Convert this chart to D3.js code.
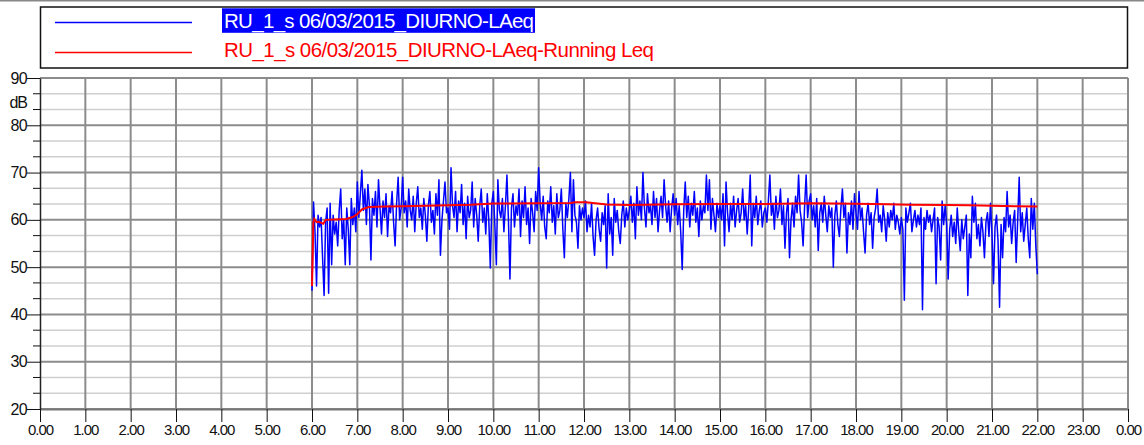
<!DOCTYPE html>
<html>
<head>
<meta charset="utf-8">
<script src="https://d3js.org/d3.v7.min.js"></script>
<style>
    body { margin: 0; background: #fff; }
    svg { display: block; font-family: "Liberation Sans", Arial, sans-serif; }
</style>
</head>
<body>
<script>
(function(){

// series names
var seriesNames = ["RU_1_s 06/03/2015_DIURNO-LAeq", "RU_1_s 06/03/2015_DIURNO-LAeq-Running Leq"];

// LAeq, one value every 2 minutes from 6.00 to 22.00 (one row per hour)
var laeqStartHour = 6,
    laeqStepMin = 2;
var laeq = [
    45.0, 63.8, 57.5, 46.0, 61.0, 58.5, 60.5, 52.0, 44.0, 59.5, 62.5, 44.5, 63.5, 50.5, 61.0, 57.0, 59.5, 54.5, 62.0, 66.5, 56.0, 60.0, 50.5, 62.5, 58.0, 50.5, 64.5, 59.0, 62.5, 57.5,
    68.0, 60.5, 65.5, 70.5, 62.0, 66.5, 59.0, 67.5, 63.0, 51.5, 64.5, 61.0, 66.0, 58.5, 68.5, 62.5, 57.0, 64.0, 60.5, 65.5, 56.5, 63.0, 61.5, 66.0, 59.5, 54.5, 63.5, 69.0, 60.0, 62.5,
    69.0, 61.5, 64.0, 58.5, 66.5, 62.0, 60.0, 65.0, 57.5, 63.5, 67.0, 60.5, 62.5, 58.0, 64.5, 61.0, 55.5, 63.0, 66.0, 59.5, 62.0, 57.0, 65.5, 61.0, 68.5, 52.5, 60.0, 64.0, 68.0, 61.5,
    62.5, 58.0, 71.0, 63.0, 60.5, 66.0, 57.5, 64.0, 61.5, 67.5, 59.0, 63.5, 56.0, 65.0, 60.5, 62.0, 68.0, 58.5, 64.5, 61.0, 55.5, 63.0, 66.5, 59.5, 62.5, 57.0, 65.5, 60.0, 49.8, 63.5,
    66.0, 59.0, 50.5, 68.5, 62.0, 60.5, 64.5, 57.5, 63.0, 69.5, 60.0, 47.5, 62.5, 65.5, 58.5, 63.0, 61.0, 66.5, 56.5, 64.0, 60.5, 67.0, 59.0, 62.5, 55.0, 64.5, 61.5, 57.5, 66.0, 62.0,
    71.0, 63.5, 60.0, 65.0, 58.5, 56.0, 64.0, 61.5, 67.0, 59.5, 63.0, 57.0, 65.5, 60.5, 62.0, 66.5, 58.0, 52.0, 63.5, 60.5, 64.5, 70.0, 57.5, 68.5, 61.0, 59.5, 54.0, 63.0, 60.0, 62.5,
    60.5, 64.0, 57.5, 61.0, 58.5, 63.5, 56.5, 52.5, 60.0, 62.5, 58.0, 55.5, 61.5, 59.0, 63.0, 49.8, 65.5, 57.0, 60.5, 52.5, 64.5, 59.5, 62.0, 57.5, 55.0, 61.0, 64.0, 58.5, 62.5, 60.0,
    62.0, 65.0, 59.5, 63.5, 56.0, 67.0, 61.0, 64.0, 60.0, 70.0, 62.5, 58.5, 65.5, 61.5, 63.0, 59.0, 66.0, 60.5, 64.5, 57.5, 62.0, 65.0, 60.5, 68.5, 63.0, 59.5, 64.0, 57.5, 62.5, 65.5,
    61.0, 64.5, 59.0, 63.0, 57.5, 49.5, 62.0, 68.0, 60.5, 65.0, 58.5, 63.5, 61.0, 66.0, 59.5, 62.5, 56.5, 64.0, 60.0, 63.0, 61.5, 69.5, 62.0, 68.5, 58.0, 64.5, 61.0, 57.5, 63.5, 60.5,
    63.0, 60.0, 65.5, 54.5, 68.0, 61.5, 57.5, 63.5, 60.0, 65.0, 58.5, 62.0, 64.5, 59.5, 61.5, 66.5, 60.0, 63.0, 57.0, 62.5, 69.5, 54.5, 63.5, 60.5, 65.0, 59.0, 62.0, 64.0, 58.5, 61.5,
    62.5, 59.5, 64.0, 69.5, 61.0, 63.5, 58.0, 65.0, 60.5, 62.0, 66.5, 59.0, 63.0, 54.0, 61.5, 64.5, 52.0, 60.0, 63.5, 58.5, 65.0, 61.5, 69.5, 62.0, 59.5, 54.5, 63.0, 69.5, 60.5, 64.0,
    65.5, 60.0, 63.0, 58.5, 64.5, 53.5, 61.5, 63.5, 59.5, 65.0, 61.0, 57.5, 63.0, 60.5, 62.5, 50.0, 61.0, 64.0, 59.0, 56.5, 62.5, 66.5, 60.5, 63.5, 53.0, 61.5, 59.0, 64.0, 58.0, 65.5,
    61.5, 58.0, 66.0, 60.0, 62.5, 57.5, 53.0, 61.0, 63.5, 59.0, 61.5, 54.0, 60.5, 62.5, 66.5, 59.5, 61.0, 57.5, 63.0, 60.0, 55.5, 61.5, 58.5, 62.0, 60.0, 63.5, 58.0, 61.0, 59.5, 57.0,
    60.5, 58.0, 43.0, 62.5, 59.5, 61.5, 63.5, 57.5, 60.0, 62.0, 58.5, 61.0, 59.0, 62.5, 41.0, 60.5, 58.0, 62.0, 59.5, 61.0, 57.5, 60.0, 62.5, 46.5, 60.5, 58.5, 51.5, 64.0, 59.0, 63.0,
    59.0, 47.5, 58.0, 61.0, 56.5, 59.5, 55.0, 62.5, 57.5, 53.5, 60.0, 56.0, 58.5, 61.0, 44.0, 57.0, 52.0, 65.0, 59.5, 63.5, 56.0, 59.0, 54.5, 60.5, 57.5, 52.0, 59.5, 61.5, 56.5, 63.5,
    57.0, 46.5, 58.5, 61.0, 55.5, 41.5, 59.0, 52.0, 60.5, 57.5, 66.0, 58.5, 61.0, 55.0, 59.5, 62.0, 51.0, 60.0, 69.0, 57.5, 61.5, 55.5, 59.0, 62.5, 56.0, 52.0, 64.5, 58.0, 63.5, 54.5,
    48.5
];

// running Leq (hour, dB)
var runHours = [6.00, 6.03, 6.05, 6.10, 6.15, 6.25, 6.30, 6.50, 6.75, 6.90, 7.00, 7.10, 7.25, 7.60, 8.00, 8.50, 9.00, 9.50, 10.00, 11.00, 11.70, 11.80, 12.05, 12.50, 13.00, 14.00, 15.00, 16.00, 17.00, 17.50, 18.00, 18.70, 19.20, 20.00, 20.50, 21.00, 21.50, 22.00];
var runLeq   = [46.0, 59.5, 60.2, 59.5, 59.6, 59.2, 60.0, 60.1, 60.2, 60.6, 61.2, 62.2, 62.7, 62.85, 62.9, 63.0, 63.1, 63.2, 63.45, 63.5, 63.55, 63.7, 63.7, 63.25, 63.15, 63.3, 63.35, 63.35, 63.5, 63.45, 63.4, 63.3, 63.2, 63.15, 63.1, 63.0, 62.9, 62.8];

// axis ticks
var xTickLabels = ["0.00", "1.00", "2.00", "3.00", "4.00", "5.00", "6.00", "7.00", "8.00", "9.00", "10.00", "11.00",
    "12.00", "13.00", "14.00", "15.00", "16.00", "17.00", "18.00", "19.00", "20.00", "21.00", "22.00", "23.00", "0.00"];
var yTickValues = [20, 30, 40, 50, 60, 70, 80, 90];

// frame
var width = 1144,
    height = 445,
    plotLeft = 40,
    plotRight = 1128,
    plotTop = 78,
    plotBottom = 409;

var svg = d3.select("body")
    .append("svg")
    .attr("width", width)
    .attr("height", height);

svg.append("rect")
    .attr("width", width)
    .attr("height", height)
    .attr("fill", "#fff");

// top border line
svg.append("line")
    .attr("x1", 0).attr("x2", width)
    .attr("y1", 0.5).attr("y2", 0.5)
    .attr("stroke", "#888")
    .attr("stroke-width", 2);

// scales
var x = d3.scaleLinear()
    .domain([0, 24])
    .range([plotLeft, plotRight]);

var y = d3.scaleLinear()
    .domain([20, 90])
    .range([plotBottom, plotTop]);

// minor gridlines (thirds of 10 dB)
var minorTicks = [];
for (var v = 20; v < 90; v += 10){
    minorTicks.push(v + 10 / 3, v + 20 / 3);
};

svg.append("g")
    .selectAll("line")
    .data(minorTicks)
    .enter()
    .append("line")
    .attr("x1", plotLeft).attr("x2", plotRight)
    .attr("y1", function(d){ return y(d); })
    .attr("y2", function(d){ return y(d); })
    .attr("stroke", "#cfcfcf")
    .attr("stroke-width", 1.5);

// major horizontal gridlines
svg.append("g")
    .selectAll("line")
    .data(yTickValues)
    .enter()
    .append("line")
    .attr("x1", plotLeft).attr("x2", plotRight)
    .attr("y1", function(d){ return y(d); })
    .attr("y2", function(d){ return y(d); })
    .attr("stroke", "#8c8c8c")
    .attr("stroke-width", 2);

// vertical gridlines, one per hour
svg.append("g")
    .selectAll("line")
    .data(d3.range(1, 25))
    .enter()
    .append("line")
    .attr("x1", function(d){ return x(d); })
    .attr("x2", function(d){ return x(d); })
    .attr("y1", plotTop).attr("y2", plotBottom)
    .attr("stroke", "#8c8c8c")
    .attr("stroke-width", 2);

// x axis
var xAxis = d3.axisBottom(x)
    .tickValues(d3.range(0, 25))
    .tickSize(13)
    .tickSizeOuter(0)
    .tickFormat(function(d, i){ return xTickLabels[i]; });

var gx = svg.append("g")
    .attr("transform", "translate(0," + plotBottom + ")")
    .call(xAxis);

gx.select(".domain")
    .attr("stroke", "#777")
    .attr("stroke-width", 2);

gx.selectAll(".tick line")
    .attr("stroke", "#111");

gx.selectAll(".tick text")
    .attr("y", 15)
    .attr("dy", "0.71em")
    .attr("fill", "#111")
    .style("font-size", "15px")
    .style("letter-spacing", "-1px")
    .style("font-family", "'Liberation Sans', Arial, sans-serif");

// y axis
var yAxis = d3.axisLeft(y)
    .tickValues(yTickValues)
    .tickSize(13)
    .tickSizeOuter(0)
    .tickFormat(d3.format("d"));

var gy = svg.append("g")
    .attr("transform", "translate(" + plotLeft + ",0)")
    .call(yAxis);

gy.select(".domain")
    .attr("stroke", "#222")
    .attr("stroke-width", 1.5);

gy.selectAll(".tick line")
    .attr("stroke", "#111");

gy.selectAll(".tick text")
    .attr("x", -13)
    .attr("fill", "#111")
    .style("font-size", "16px")
    .style("letter-spacing", "-0.6px")
    .style("font-family", "'Liberation Sans', Arial, sans-serif");

// minor y ticks
gy.append("g")
    .selectAll("line")
    .data(minorTicks)
    .enter()
    .append("line")
    .attr("x1", -7).attr("x2", 0)
    .attr("y1", function(d){ return y(d); })
    .attr("y2", function(d){ return y(d); })
    .attr("stroke", "#111");

// unit label
svg.append("text")
    .attr("x", 27)
    .attr("y", 108)
    .attr("text-anchor", "end")
    .attr("fill", "#111")
    .style("font-size", "16px")
    .style("letter-spacing", "-1px")
    .text("dB");

// right plot border
svg.append("line")
    .attr("x1", plotRight).attr("x2", plotRight)
    .attr("y1", plotTop).attr("y2", plotBottom)
    .attr("stroke", "#8c8c8c")
    .attr("stroke-width", 2);

// LAeq line
var laeqLine = d3.line()
    .x(function(d, i){ return x(laeqStartHour + i * laeqStepMin / 60); })
    .y(function(d){ return y(d); });

svg.append("path")
    .datum(laeq)
    .attr("d", laeqLine)
    .attr("fill", "none")
    .attr("stroke", "#0000ff")
    .attr("stroke-width", 1.5)
    .attr("stroke-linejoin", "round");

// running Leq line
var runLine = d3.line()
    .x(function(d, i){ return x(runHours[i]); })
    .y(function(d){ return y(d); });

svg.append("path")
    .datum(runLeq)
    .attr("d", runLine)
    .attr("fill", "none")
    .attr("stroke", "#ff0000")
    .attr("stroke-width", 2);

// legend
var legend = svg.append("g");

legend.append("rect")
    .attr("x", 40.5)
    .attr("y", 7)
    .attr("width", 1087)
    .attr("height", 61)
    .attr("fill", "#fff")
    .attr("stroke", "#111")
    .attr("stroke-width", 1.5);

var legendColors = ["#0000ff", "#ff0000"],
    legendRows = [22.5, 52.5],
    legendBaselines = [27.5, 56.5],
    legendWidths = [310, 430];

legend.selectAll(".legendLine")
    .data(seriesNames)
    .enter()
    .append("line")
    .attr("class", "legendLine")
    .attr("x1", 55).attr("x2", 192)
    .attr("y1", function(d, i){ return legendRows[i]; })
    .attr("y2", function(d, i){ return legendRows[i]; })
    .attr("stroke", function(d, i){ return legendColors[i]; })
    .attr("stroke-width", 1.5);

// selected series gets a highlight box
legend.append("rect")
    .attr("x", 222)
    .attr("y", 8.3)
    .attr("width", 313)
    .attr("height", 24.5)
    .attr("fill", "#0000ff");

legend.selectAll(".legendText")
    .data(seriesNames)
    .enter()
    .append("text")
    .attr("class", "legendText")
    .attr("x", 224)
    .attr("y", function(d, i){ return legendBaselines[i]; })
    .attr("textLength", function(d, i){ return legendWidths[i]; })
    .attr("lengthAdjust", "spacing")
    .attr("fill", function(d, i){ return i == 0 ? "#fff" : "#ff0000"; })
    .style("font-size", "20.5px")
    .text(function(d){ return d; });

})();
</script>
</body>
</html>
